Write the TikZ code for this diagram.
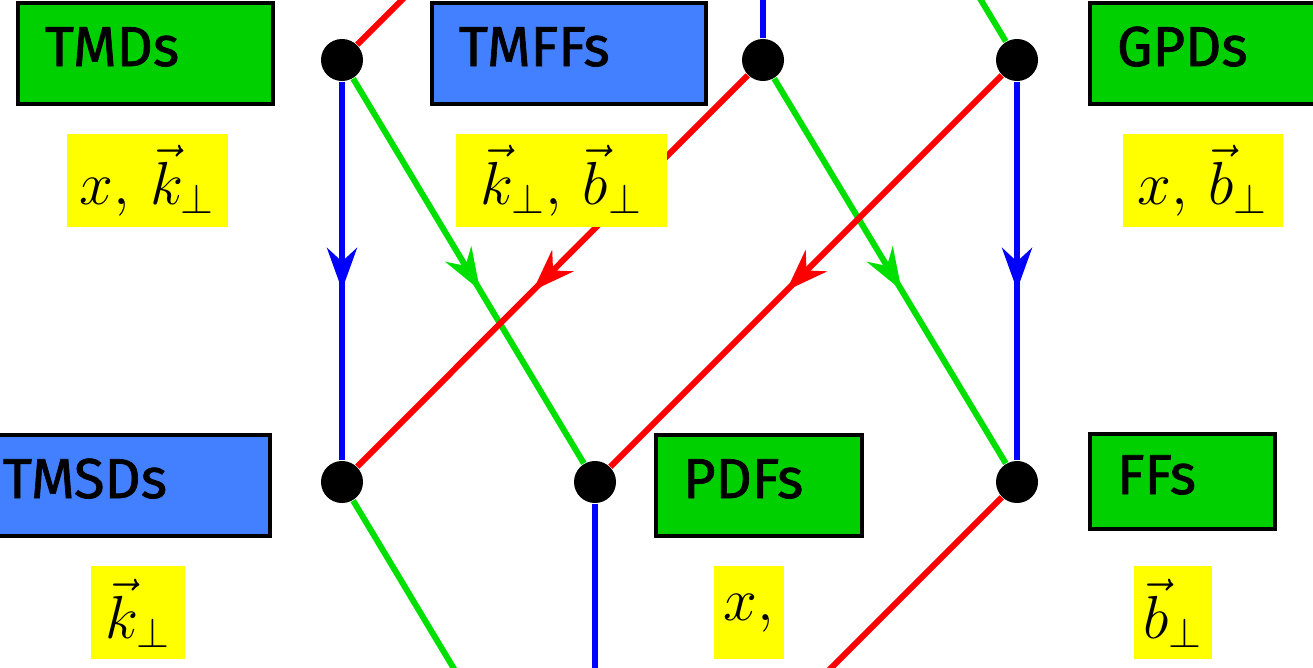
\documentclass[tikz,border=0pt]{standalone}
\usepackage{fontspec}
\newfontfamily\boxfont{Fira Sans}[FakeBold=1.2]
\usetikzlibrary{arrows.meta, positioning, decorations.markings}

\definecolor{boxgreen}{RGB}{0,208,0}
\definecolor{boxblue}{RGB}{66,128,255}
\definecolor{linegreen}{RGB}{0,224,0}
\definecolor{lineblue}{RGB}{0,0,255}
\definecolor{linered}{RGB}{255,0,0}
\definecolor{varyellow}{RGB}{255,255,0}

\begin{document}
\begin{tikzpicture}[
    x=0.01cm, y=-0.01cm,
    dist/.style={draw, line width=0.033cm, inner xsep=0.27cm, inner ysep=0pt,
                 align=left, text height=0.39cm, text depth=0.14cm,
                 minimum height=1.01cm, font=\fontsize{16}{19}\boxfont},
    var/.style={fill=varyellow, inner sep=0pt, minimum height=0.93cm,
                font=\fontsize{18.5}{22}\selectfont},
    vtx/.style={circle, fill=black, minimum size=0.42cm, inner sep=0pt},
    flow/.style={line width=0.06cm, postaction={decorate},
                 decoration={markings, mark=at position 0.55 with
                   {\arrow{Stealth[length=0.42cm, width=0.30cm]}}}}
]
\useasboundingbox (0,0) rectangle (1313,667);
\clip (0,0) rectangle (1313,667);

% lattice points
\coordinate (gtmd) at (763,-362);
\node[vtx] (tmd) at (342,60) {};
\node[vtx] (tmff) at (763,60) {};
\node[vtx] (gpd) at (1017,60) {};
\node[vtx] (tmsd) at (342,482) {};
\node[vtx] (pdf) at (595,482) {};
\node[vtx] (ff) at (1017,482) {};
\coordinate (charge) at (595,904);

% projections
\draw[flow, linered] (gtmd) -- (tmd);
\draw[flow, lineblue] (gtmd) -- (tmff);
\draw[flow, linegreen] (gtmd) -- (gpd);
\draw[flow, lineblue] (tmd) -- (tmsd);
\draw[flow, linegreen] (tmd) -- (pdf);
\draw[flow, linered] (tmff) -- (tmsd);
\draw[flow, linegreen] (tmff) -- (ff);
\draw[flow, linered] (gpd) -- (pdf);
\draw[flow, lineblue] (gpd) -- (ff);
\draw[flow, linegreen] (tmsd) -- (charge);
\draw[flow, lineblue] (pdf) -- (charge);
\draw[flow, linered] (ff) -- (charge);

% distributions
\node[dist, fill=boxgreen, text width=2.01cm] (tmdbox) at (145.5,53.5) {TMDs};
\node[dist, fill=boxblue, text width=2.20cm] (tmffbox) at (569,53.5) {TMFFs};
\node[dist, fill=boxgreen, text width=1.72cm] (gpdbox) at (1203,53.5) {GPDs};
\node[dist, fill=boxblue, text width=2.40cm] (tmsdbox) at (123,485.5) {TMSDs};
\node[dist, fill=boxgreen, text width=1.52cm] (pdfbox) at (759,485.5) {PDFs};
\node[dist, fill=boxgreen, text width=1.31cm, minimum height=0.95cm] (ffbox) at (1182.5,481.5) {FFs};

% variables
\node[var, minimum width=1.61cm, below=0.28cm of tmdbox, xshift=0.02cm] (tmdvar) {$x,\,\vec{k}_\perp$};
\node[var, minimum width=2.11cm, below=0.28cm of tmffbox, xshift=-0.075cm] (tmffvar) {$\vec{k}_\perp,\,\vec{b}_\perp$};
\node[var, minimum width=1.60cm, below=0.28cm of gpdbox] (gpdvar) {$x,\,\vec{b}_\perp$};
\node[var, minimum width=0.94cm, below=0.28cm of tmsdbox, xshift=0.15cm] (tmsdvar) {$\vec{k}_\perp$};
\node[var, minimum width=0.70cm, below=0.28cm of pdfbox, xshift=-0.10cm] (pdfvar) {$x,$};
\node[var, minimum width=0.78cm, below=0.35cm of ffbox, xshift=-0.095cm] (ffvar) {$\vec{b}_\perp$};
\end{tikzpicture}
\end{document}
